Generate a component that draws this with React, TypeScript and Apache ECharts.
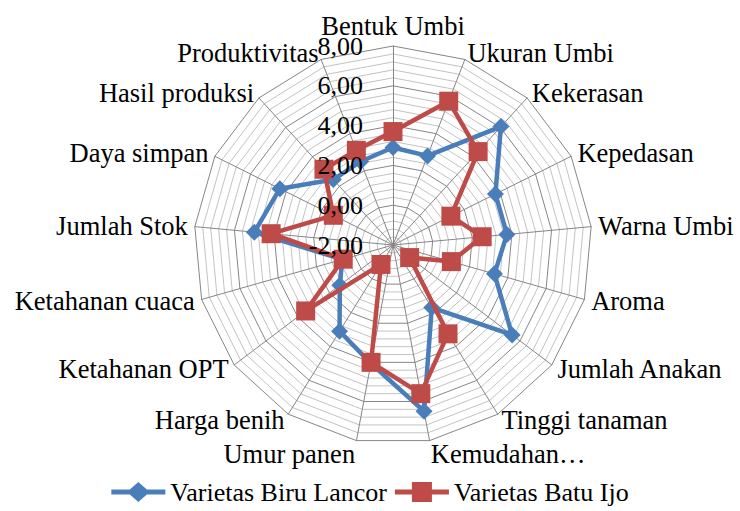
import React, { useEffect, useRef } from "react";
import * as echarts from "echarts";

const indicators = [
  "Bentuk Umbi",
  "Ukuran Umbi",
  "Kekerasan",
  "Kepedasan",
  "Warna Umbi",
  "Aroma",
  "Jumlah Anakan",
  "Tinggi tanaman",
  "Kemudahan…",
  "Umur panen",
  "Harga benih",
  "Ketahanan OPT",
  "Ketahanan cuaca",
  "Jumlah Stok",
  "Daya simpan",
  "Hasil produksi",
  "Produktivitas",
];

const biruLancor = [2.9, 2.8, 6.05, 3.75, 3.75, 3.3, 5.5, 1.7, 6.5, 4.05, 3.1, 1.35, 0.65, 5.0, 4.35, 2.45, 2.5];
const batuIjo = [3.7, 5.75, 4.35, 1.25, 2.5, 1.05, -0.95, 3.25, 5.6, 4.0, -0.85, 3.5, 0.6, 4.15, 1.35, 3.15, 3.1];

const seriesNames = ["Varietas Biru Lancor", "Varietas Batu Ijo"];
const axisMin = -2;
const axisMax = 8;
const splitCount = 25;

const FONT = '"Liberation Serif", "Times New Roman", serif';

// ECharts lays radar indicators counter-clockwise; reorder so they run clockwise
const order = indicators.map((_, i) => (i === 0 ? 0 : indicators.length - i));
const reorder = <T,>(arr: T[]) => order.map((i) => arr[i]);

export default function App() {
  const ref = useRef<HTMLDivElement>(null);
  useEffect(() => {
    if (!ref.current) return;
    const chart = echarts.init(ref.current, undefined, { renderer: "svg" });
    const center = [393, 245];
    const radius = 199;
    const grey = "#868686";
    const light = "#c3c3c3";
    const nameSize = 26.5;
    const names = reorder(indicators);
    const ind = names.map((n) => ({ name: n, min: axisMin, max: axisMax }));
    const labelInd = names.map((n, i) =>
      i === 0
        ? { name: n, min: axisMin, max: axisMax, axisLabel: { show: true } }
        : { name: n, min: axisMin, max: axisMax }
    );
    chart.setOption({
      animation: false,
      legend: {
        top: 476,
        left: "center",
        itemWidth: 54,
        itemHeight: 20,
        itemGap: 8,
        padding: 2,
        selectedMode: false,
        textStyle: { fontSize: 26, lineHeight: 28, color: "#000", fontFamily: FONT },
        data: [
          {
            name: seriesNames[0],
            icon: "path://M0,7.5 H18.5 L27,0 L35.5,7.5 H54 V12.5 H35.5 L27,20 L18.5,12.5 H0 Z",
          },
          {
            name: seriesNames[1],
            icon: "path://M0,7.5 H17 V0 H37 V7.5 H54 V12.5 H37 V20 H17 V12.5 H0 Z",
          },
        ],
      },
      radar: [
        {
          center,
          radius,
          startAngle: 90,
          shape: "polygon",
          splitNumber: splitCount,
          indicator: ind,
          nameGap: 7,
          axisName: {
            color: "#000",
            fontSize: nameSize,
            fontFamily: FONT,
            formatter: (name: string) =>
              name === "Kemudahan…" || name === "Umur panen" ? `{low|${name}}` : name,
            rich: { low: { padding: [14, 0, 0, 0], fontSize: nameSize, fontFamily: FONT, color: "#000" } },
          },
          axisLine: { lineStyle: { color: grey, width: 1 } },
          splitLine: {
            lineStyle: { color: [grey, light, light, light, light], width: 1 },
          },
          splitArea: { show: false },
          axisLabel: { show: false },
        },
        {
          center,
          radius,
          startAngle: 90,
          shape: "polygon",
          splitNumber: splitCount,
          indicator: labelInd,
          z: 10,
          axisName: { show: false },
          axisLine: { show: false },
          splitLine: { show: false },
          splitArea: { show: false },
          axisTick: { show: false },
          axisLabel: {
            show: false,
            margin: 30,
            fontSize: 26,
            color: "#000",
            fontFamily: FONT,
            formatter: (v: number) => {
              const r = Math.round(v * 100) / 100;
              return Math.abs(r / 2 - Math.round(r / 2)) < 1e-6 ? r.toFixed(2).replace(".", ",") : "";
            },
          },
        },
      ],
      series: [
        {
          type: "radar",
          radarIndex: 0,
          z: 2,
          data: [
            {
              name: seriesNames[0],
              value: reorder(biruLancor),
              symbol: "diamond",
              symbolSize: 17,
              lineStyle: { color: "#4a7ebb", width: 4.5 },
              itemStyle: { color: "#4a7ebb" },
            },
          ],
        },
        {
          type: "radar",
          radarIndex: 0,
          z: 3,
          data: [
            {
              name: seriesNames[1],
              value: reorder(batuIjo),
              symbol: "rect",
              symbolSize: 19,
              lineStyle: { color: "#be4b48", width: 4.5 },
              itemStyle: { color: "#be4b48" },
            },
          ],
        },
      ],
    });
    return () => chart.dispose();
  }, []);
  return (
    <div
      ref={ref}
      style={{ position: "absolute", left: 0, top: 0, width: 740, height: 511, background: "#fff" }}
    />
  );
}
